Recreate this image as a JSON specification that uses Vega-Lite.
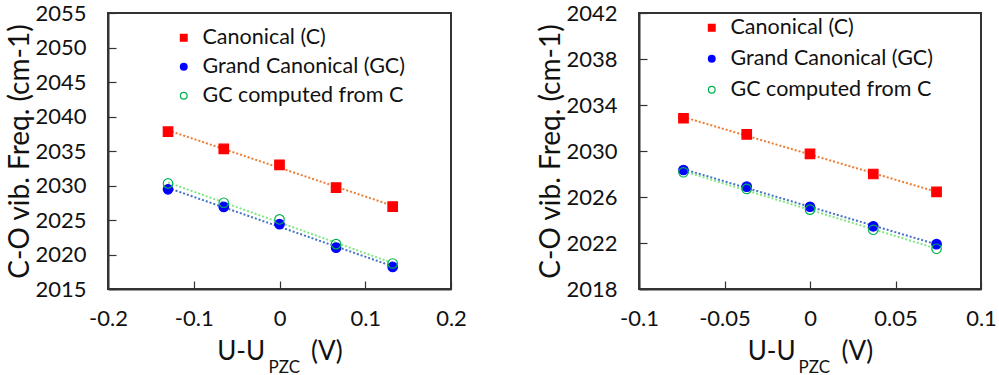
{
  "$schema": "https://vega.github.io/schema/vega-lite/v6.json",
  "background": "white",
  "padding": {"left": 5, "top": 1, "right": 5, "bottom": 2},
  "spacing": 68,
  "resolve": {
    "scale": {"shape": "independent", "fill": "independent", "stroke": "independent"},
    "legend": {"shape": "independent", "fill": "independent", "stroke": "independent"}
  },
  "config": {
    "font": "Lato",
    "view": {"stroke": "#333333", "strokeWidth": 2},
    "axis": {
      "grid": false,
      "domainColor": "#333333",
      "domainWidth": 2,
      "tickColor": "#333333",
      "tickWidth": 1.2,
      "tickSize": -8,
      "labelFontSize": 22,
      "labelColor": "#111111",
      "labelFont": "Lato",
      "labelOverlap": false,
      "titleFont": "Lato",
      "titleFontSize": 26,
      "titleFontWeight": "normal",
      "titleColor": "#111111"
    },
    "legend": {
      "labelFont": "Lato",
      "labelFontSize": 21.5,
      "labelColor": "#111111",
      "labelLimit": 0,
      "symbolSize": 45,
      "symbolStrokeWidth": 1.2,
      "rowPadding": 6,
      "labelOffset": 8
    }
  },
  "datasets": {
    "left": [
      {"u": -0.13, "f": 2037.8, "series": "Canonical (C)"},
      {"u": -0.065, "f": 2035.3, "series": "Canonical (C)"},
      {"u": 0.0, "f": 2033.0, "series": "Canonical (C)"},
      {"u": 0.066, "f": 2029.7, "series": "Canonical (C)"},
      {"u": 0.132, "f": 2026.95, "series": "Canonical (C)"},
      {"u": -0.13, "f": 2029.45, "series": "Grand Canonical (GC)"},
      {"u": -0.065, "f": 2026.9, "series": "Grand Canonical (GC)"},
      {"u": 0.0, "f": 2024.4, "series": "Grand Canonical (GC)"},
      {"u": 0.066, "f": 2021.0, "series": "Grand Canonical (GC)"},
      {"u": 0.132, "f": 2018.2, "series": "Grand Canonical (GC)"},
      {"u": -0.13, "f": 2030.3, "series": "GC computed from C"},
      {"u": -0.065, "f": 2027.5, "series": "GC computed from C"},
      {"u": 0.0, "f": 2025.1, "series": "GC computed from C"},
      {"u": 0.066, "f": 2021.5, "series": "GC computed from C"},
      {"u": 0.132, "f": 2018.7, "series": "GC computed from C"}
    ],
    "right": [
      {"u": -0.074, "f": 2032.85, "series": "Canonical (C)"},
      {"u": -0.037, "f": 2031.45, "series": "Canonical (C)"},
      {"u": 0.0, "f": 2029.75, "series": "Canonical (C)"},
      {"u": 0.037, "f": 2028.0, "series": "Canonical (C)"},
      {"u": 0.074, "f": 2026.45, "series": "Canonical (C)"},
      {"u": -0.074, "f": 2028.35, "series": "Grand Canonical (GC)"},
      {"u": -0.037, "f": 2026.9, "series": "Grand Canonical (GC)"},
      {"u": 0.0, "f": 2025.15, "series": "Grand Canonical (GC)"},
      {"u": 0.037, "f": 2023.45, "series": "Grand Canonical (GC)"},
      {"u": 0.074, "f": 2021.9, "series": "Grand Canonical (GC)"},
      {"u": -0.074, "f": 2028.15, "series": "GC computed from C"},
      {"u": -0.037, "f": 2026.7, "series": "GC computed from C"},
      {"u": 0.0, "f": 2024.9, "series": "GC computed from C"},
      {"u": 0.037, "f": 2023.15, "series": "GC computed from C"},
      {"u": 0.074, "f": 2021.5, "series": "GC computed from C"}
    ]
  },
  "hconcat": [
    {
      "width": 343,
      "height": 276,
      "data": {"name": "left"},
      "resolve": {"axis": {"x": "independent"}},
      "layer": [
        {
          "transform": [{"filter": "datum.series === 'Canonical (C)'"}, {"regression": "f", "on": "u"}],
          "mark": {"type": "line", "strokeDash": [2, 2], "strokeWidth": 2, "color": "#ED7D31"},
          "encoding": {
            "x": {"field": "u", "type": "quantitative", "scale": {"domain": [-0.2, 0.2], "nice": false, "zero": false},
              "axis": {"orient": "top", "title": "PZC", "labels": false, "ticks": false, "domain": false,
                "titleFontSize": 17, "titleX": 160, "titleY": 359, "titleAlign": "left", "titleBaseline": "alphabetic", "titleAnchor": null, "titleAngle": 0}},
            "y": {"field": "f", "type": "quantitative", "scale": {"domain": [2015, 2055], "nice": false, "zero": false},
              "axis": {"title": "C-O vib. Freq. (cm-1)", "titleFontSize": 28, "format": "d", "values": [2015, 2020, 2025, 2030, 2035, 2040, 2045, 2050, 2055], "tickCount": 12, "labelOverlap": false, "labelPadding": 30, "titlePadding": 0, "labelFlush": false}}
          }
        },
        {
          "transform": [{"filter": "datum.series === 'Grand Canonical (GC)'"}, {"regression": "f", "on": "u"}],
          "mark": {"type": "line", "strokeDash": [2, 2], "strokeWidth": 2, "color": "#4472C4"},
          "encoding": {
            "x": {"field": "u", "type": "quantitative", "axis": null},
            "y": {"field": "f", "type": "quantitative"}
          }
        },
        {
          "transform": [{"filter": "datum.series === 'GC computed from C'"}, {"regression": "f", "on": "u"}],
          "mark": {"type": "line", "strokeDash": [2, 2], "strokeWidth": 2, "color": "#80E880"},
          "encoding": {
            "x": {"field": "u", "type": "quantitative", "axis": null},
            "y": {"field": "f", "type": "quantitative"}
          }
        },
        {
          "mark": {"type": "point", "filled": true, "strokeWidth": 1.2, "opacity": 1},
          "encoding": {
            "x": {"field": "u", "type": "quantitative",
              "axis": {"orient": "bottom", "title": "U-U\u2003\u2002\u00A0\u00A0(V)", "values": [-0.2, -0.1, 0, 0.1, 0.2], "tickCount": 12, "labelPadding": 27, "titlePadding": 9,
                "labelExpr": "replace(format(datum.value, '~g'), '\u2212', '-')", "labelFlush": false}},
            "y": {"field": "f", "type": "quantitative"},
            "shape": {"field": "series", "type": "nominal",
              "scale": {"domain": ["Canonical (C)", "Grand Canonical (GC)", "GC computed from C"], "range": ["square", "circle", "circle"]},
              "legend": {"title": null, "orient": "none", "legendX": 65, "legendY": 14}},
            "fill": {"field": "series", "type": "nominal",
              "scale": {"domain": ["Canonical (C)", "Grand Canonical (GC)", "GC computed from C"], "range": ["#FF0000", "#0000FF", "transparent"]},
              "legend": {"title": null, "orient": "none", "legendX": 65, "legendY": 14}},
            "stroke": {"field": "series", "type": "nominal",
              "scale": {"domain": ["Canonical (C)", "Grand Canonical (GC)", "GC computed from C"], "range": ["#FF0000", "#0000FF", "#00B050"]},
              "legend": {"title": null, "orient": "none", "legendX": 65, "legendY": 14}},
            "size": {"value": 90}
          }
        }
      ]
    },
    {
      "width": 342,
      "height": 276,
      "data": {"name": "right"},
      "resolve": {"axis": {"x": "independent"}},
      "layer": [
        {
          "transform": [{"filter": "datum.series === 'Canonical (C)'"}, {"regression": "f", "on": "u"}],
          "mark": {"type": "line", "strokeDash": [2, 2], "strokeWidth": 2, "color": "#ED7D31"},
          "encoding": {
            "x": {"field": "u", "type": "quantitative", "scale": {"domain": [-0.1, 0.1], "nice": false, "zero": false},
              "axis": {"orient": "top", "title": "PZC", "labels": false, "ticks": false, "domain": false,
                "titleFontSize": 17, "titleX": 159, "titleY": 359, "titleAlign": "left", "titleBaseline": "alphabetic", "titleAnchor": null, "titleAngle": 0}},
            "y": {"field": "f", "type": "quantitative", "scale": {"domain": [2018, 2042], "nice": false, "zero": false},
              "axis": {"title": "C-O vib. Freq. (cm-1)", "titleFontSize": 28, "format": "d", "values": [2018, 2022, 2026, 2030, 2034, 2038, 2042], "tickCount": 12, "labelOverlap": false, "labelPadding": 30, "titlePadding": 0, "labelFlush": false}}
          }
        },
        {
          "transform": [{"filter": "datum.series === 'Grand Canonical (GC)'"}, {"regression": "f", "on": "u"}],
          "mark": {"type": "line", "strokeDash": [2, 2], "strokeWidth": 2, "color": "#4472C4"},
          "encoding": {
            "x": {"field": "u", "type": "quantitative", "axis": null},
            "y": {"field": "f", "type": "quantitative"}
          }
        },
        {
          "transform": [{"filter": "datum.series === 'GC computed from C'"}, {"regression": "f", "on": "u"}],
          "mark": {"type": "line", "strokeDash": [2, 2], "strokeWidth": 2, "color": "#80E880"},
          "encoding": {
            "x": {"field": "u", "type": "quantitative", "axis": null},
            "y": {"field": "f", "type": "quantitative"}
          }
        },
        {
          "mark": {"type": "point", "filled": true, "strokeWidth": 1.2, "opacity": 1},
          "encoding": {
            "x": {"field": "u", "type": "quantitative",
              "axis": {"orient": "bottom", "title": "U-U\u2003\u2002\u00A0\u00A0(V)", "values": [-0.1, -0.05, 0, 0.05, 0.1], "tickCount": 12, "labelPadding": 27, "titlePadding": 9,
                "labelExpr": "replace(format(datum.value, '~g'), '\u2212', '-')", "labelFlush": false}},
            "y": {"field": "f", "type": "quantitative"},
            "shape": {"field": "series", "type": "nominal",
              "scale": {"domain": ["Canonical (C)", "Grand Canonical (GC)", "GC computed from C"], "range": ["square", "circle", "circle"]},
              "legend": {"title": null, "orient": "none", "legendX": 62, "legendY": 4, "rowPadding": 8}},
            "fill": {"field": "series", "type": "nominal",
              "scale": {"domain": ["Canonical (C)", "Grand Canonical (GC)", "GC computed from C"], "range": ["#FF0000", "#0000FF", "transparent"]},
              "legend": {"title": null, "orient": "none", "legendX": 62, "legendY": 4, "rowPadding": 8}},
            "stroke": {"field": "series", "type": "nominal",
              "scale": {"domain": ["Canonical (C)", "Grand Canonical (GC)", "GC computed from C"], "range": ["#FF0000", "#0000FF", "#00B050"]},
              "legend": {"title": null, "orient": "none", "legendX": 62, "legendY": 4, "rowPadding": 8}},
            "size": {"value": 90}
          }
        }
      ]
    }
  ]
}
